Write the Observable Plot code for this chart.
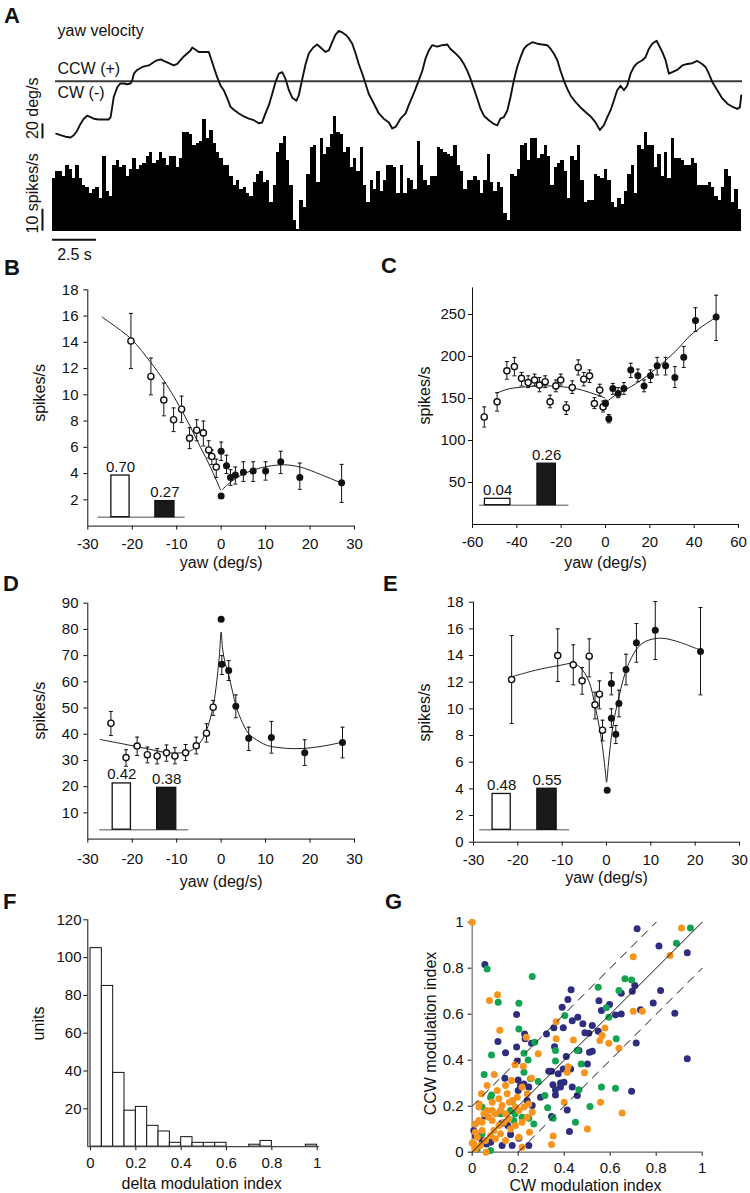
<!DOCTYPE html>
<html><head><meta charset="utf-8">
<script src="https://cdn.jsdelivr.net/npm/d3@7"></script>
<script src="https://cdn.jsdelivr.net/npm/@observablehq/plot@0.6"></script>
<style>
html,body{margin:0;padding:0;background:#fff;}
#fig{position:relative;width:750px;height:1193px;overflow:hidden;font-family:"Liberation Sans",Arial,sans-serif;}
#fig svg{position:absolute;left:0;top:0;}
.letter{position:absolute;font-weight:bold;font-size:22px;line-height:22px;color:#111;}
</style></head><body><div id="fig"></div>
<script>
// ---------------- DATA ----------------
// Panel A: yaw velocity trace (s, deg/s)
const aTime = [0.21,0.45,0.74,1.02,1.21,1.40,1.59,1.78,1.97,2.16,2.35,2.63,2.91,3.20,3.30,3.39,3.48,3.68,3.86,4.05,4.24,4.43,4.53,4.62,4.81,5.10,5.28,5.47,5.66,5.85,6.14,6.32,6.52,6.70,6.89,7.09,7.27,7.46,7.65,7.84,7.94,8.13,8.31,8.60,8.88,8.98,9.16,9.36,9.55,9.73,9.93,10.11,10.30,10.59,10.87,11.15,11.44,11.72,11.91,12.10,12.29,12.48,12.67,12.86,13.05,13.24,13.43,13.62,13.86,13.99,14.19,14.38,14.56,14.81,15.04,15.23,15.51,15.70,15.89,16.08,16.27,16.46,16.65,16.84,17.03,17.22,17.40,17.60,17.78,17.97,18.26,18.54,18.82,19.11,19.30,19.49,19.77,20.06,20.24,20.44,20.63,20.81,21.01,21.19,21.38,21.57,21.86,22.14,22.43,22.61,22.90,23.18,23.37,23.56,23.75,23.94,24.13,24.32,24.51,24.79,25.07,25.27,25.45,25.64,25.84,26.02,26.21,26.40,26.59,26.78,26.97,27.26,27.54,27.82,28.11,28.30,28.48,28.68,28.86,29.05,29.24,29.43,29.72,30.00,30.28,30.57,30.85,31.10,31.32,31.52,31.70,31.89,32.08,32.27,32.46,32.65,32.84,33.03,33.22,33.51,33.69,33.88,34.07,34.32,34.45,34.64,34.83,35.02,35.21,35.49,35.78,36.06,36.35,36.63,36.91,37.10,37.29,37.48,37.77,38.05,38.34,38.62,38.90,39.05,39.13];
const aVel = [-70,-72,-74,-75,-72,-66,-57,-50,-46,-48,-50,-51,-51,-51,-48,-35,-21,-8,-3,-3,-4,-3,1,10,15,19,20,21,24,27,29,27,25,23,21,23,28,33,37,41,45,42,39,39,39,32,19,5,-6,-12,-23,-34,-38,-43,-47,-50,-52,-56,-55,-43,-32,-17,-1,10,12,3,-12,-22,-26,-19,3,23,37,45,49,45,39,41,52,62,67,65,62,57,50,37,23,10,-3,-17,-30,-43,-50,-55,-63,-61,-50,-43,-32,-21,-10,1,14,30,41,48,46,48,49,43,37,30,23,14,3,-10,-23,-37,-46,-52,-57,-59,-50,-48,-39,-21,1,19,32,43,48,52,50,49,48,43,37,28,14,1,-10,-19,-28,-35,-41,-47,-55,-65,-59,-48,-39,-26,-12,-6,-12,-6,10,19,24,28,32,43,50,54,48,39,28,10,12,15,21,23,24,27,23,19,10,-1,-12,-23,-30,-34,-37,-35,-19];
// Panel A: firing-rate histogram (spikes/s per bin)
const aBinWidth = 0.19;
const aRates = [24,27,27,25,30,28,24,30,24,21,20,17,19,20,15,34,18,16,30,32,29,30,25,28,33,28,30,31,34,36,31,32,36,33,30,34,34,29,33,45,45,44,39,40,41,51,42,46,40,36,33,30,
30,25,21,23,19,20,17,16,22,26,27,22,23,13,21,36,40,43,32,21,5,1,14,11,26,38,39,22,42,35,38,44,52,45,44,36,38,29,33,27,38,21,13,23,19,27,18,23,30,30,29,17,
30,17,24,23,19,41,30,23,21,25,25,38,37,36,35,34,39,30,27,19,23,23,25,23,17,23,35,22,18,22,20,8,5,26,25,28,39,40,32,42,42,33,35,39,34,21,29,31,32,27,15,34,
32,39,23,13,14,14,26,25,24,28,23,13,11,15,12,18,26,30,17,39,37,45,39,39,29,35,25,36,24,42,33,33,32,30,30,33,31,21,21,21,22,20,16,14,20,28,25,13,19,10];
const aScaleVel = 20, aScaleRate = 10, aScaleTime = 2.5;

// Panels B–E: rows are [yaw deg/s, rate spikes/s, error low, error high]
const bOpen = [[-20.3,14.1,12.0,16.2],[-15.8,11.4,10.0,12.8],[-12.9,9.6,8.4,10.9],[-10.7,8.1,7.2,9.0],[-8.9,8.9,7.9,9.9],[-7.1,6.7,5.9,7.5],[-5.5,7.3,6.5,8.1],[-4.0,7.1,6.1,8.0],[-2.8,5.8,5.2,6.5],[-2.1,5.3,4.7,5.8],[-1.1,4.5,3.7,5.1]];
const bFilled = [[0.0,2.3,2.3,2.3],[0.0,5.7,5.0,6.4],[1.2,4.6,4.0,5.4],[2.1,3.7,3.1,4.3],[3.2,3.9,3.2,4.5],[5.0,4.1,3.4,4.9],[7.2,4.2,3.4,4.9],[10.0,4.2,3.5,4.9],[13.4,4.9,4.0,5.7],[17.7,3.7,2.8,4.8],[27.1,3.3,1.8,4.7]];
const bFitNeg = [[-26.8,15.92],[-20.3,14.27],[-15.9,12.49],[-12.9,11.09],[-10.65,9.87],[-7.65,8.04],[-4.65,6.01],[-2.4,4.49],[-0.15,2.76]];
const bFitPos = [[0.2,2.76],[2.1,3.35],[4.35,3.85],[7.35,4.29],[10.35,4.54],[14.1,4.67],[17.85,4.49],[22.4,3.93],[27.1,3.27]];
const bIndex = [0.70, 0.27];

const cOpen = [[-54.7,128,116,140],[-48.9,146,135,157],[-44.5,183,173,194],[-41.1,188,177,199],[-37.9,174,165,181],[-34.9,169,163,177],[-32.0,172,165,179],[-29.8,166,158,175],[-27.2,170,163,177],[-25.0,146,139,154],[-22.4,165,158,172],[-20.2,172,166,179],[-17.7,139,131,146],[-15.0,163,156,171],[-12.3,187,178,196],[-9.8,173,165,181],[-7.2,177,169,184],[-5.0,144,138,151],[-2.6,160,153,167],[-1.1,140,134,147]];
const cFilled = [[0,144,141,148],[1.5,126,121,131],[3.3,162,155,168],[5.7,156,151,163],[8.3,162,155,169],[11.4,184,175,192],[14.6,177,170,185],[17.4,165,158,172],[20.3,177,169,184],[23.3,189,178,199],[27.1,189,178,199],[31.3,175,163,188],[35.3,199,187,212],[40.6,243,230,258],[49.9,247,219,273]];
const cFitNeg = [[-48.9,156.7],[-43.6,161.5],[-36.1,163.9],[-28.6,165.1],[-21.1,164.3],[-13.5,161.9],[-7.5,157.5],[-0.3,150.8]];
const cFitPos = [[-0.3,144.4],[4.5,154],[10.5,162.7],[16.5,172.6],[24.1,188.5],[31.6,206.3],[39.1,227],[49.9,246.8]];
const cIndex = [0.04, 0.26];

const dOpen = [[-24.8,44.2,39.5,48.7],[-21.4,31.1,27.8,34.1],[-18.9,35.5,31.9,38.9],[-16.6,32.2,29.1,35.1],[-14.4,31.7,28.7,34.5],[-12.3,32.9,29.7,35.9],[-10.4,31.7,28.7,34.9],[-8.0,32.9,30.0,36.1],[-5.6,35.6,32.5,38.9],[-3.3,40.4,37.0,44.0],[-1.8,50.3,47.2,52.9]];
const dFilled = [[0,83.9,83.9,83.9],[0.15,66.7,62.8,70.0],[1.7,64.3,60.5,68.1],[3.3,50.7,46.3,55.0],[6.2,38.5,33.8,42.7],[11.3,38.8,32.8,44.9],[18.8,32.9,28.1,37.9],[27.3,36.9,31.0,42.7]];
const dFit = [[-27.2,38.0],[-22,36.3],[-17,34.6],[-12.2,33.0],[-9,32.9],[-7,33.6],[-5.2,35.8],[-3.8,39.5],[-2.6,45],[-1.7,51.5],[-1.0,60],[-0.4,70],[0,79],[0.3,73],[0.9,67],[1.7,62.5],[2.6,56],[3.4,50.5],[4.5,45.5],[6.2,40.2],[8.5,37.3],[10.4,35.7],[13,34.9],[16.4,34.5],[20,34.8],[24,35.8],[27.3,37.0]];
const dIndex = [0.42, 0.38];

const eOpen = [[-21.4,12.2,8.9,15.5],[-11.0,14.0,12.05,16.0],[-7.5,13.3,11.8,14.8],[-5.5,12.1,11.1,13.1],[-3.9,13.95,12.4,15.25],[-2.6,10.3,9.25,11.25],[-1.6,11.1,10.0,12.1],[-0.9,8.4,7.6,9.15]];
const eFilled = [[0.15,3.9,3.9,3.9],[1.1,11.9,11.05,12.7],[1.1,9.3,8.6,10.0],[2.1,8.1,7.4,8.75],[2.8,10.4,9.4,11.4],[4.4,12.95,11.8,14.1],[6.75,14.95,13.5,16.4],[11.0,15.9,13.7,18.05],[21.2,14.3,11.05,17.6]];
const eFit = [[-21.4,12.4],[-16,12.9],[-10.7,13.25],[-7.5,13.4],[-5.9,13.1],[-4,12.1],[-2.5,10.1],[-1.1,7.6],[-0.2,5.1],[0,4.5],[0.5,6.1],[1.4,8.6],[2.8,10.9],[5.0,13.4],[8.0,14.9],[11.8,15.3],[15.5,15.1],[21.2,14.4]];
const eIndex = [0.48, 0.55];

// Panel F: histogram of delta modulation index (bin width 0.05)
const fBinWidth = 0.05;
const fCounts = [105,85,39,19,21,11,8,2,5,2,2,2,0,0,1,3,0,0,0,1];

// Panel G: [CW modulation index, CCW modulation index]
const gNavy = [[0.717,0.971],[0.812,0.896],[0.935,0.867],[0.055,0.816],[0.819,0.703],[0.648,0.691],[0.696,0.70],[0.707,0.725],[0.43,0.706],[0.416,0.664],[0.551,0.659],[0.391,0.63],[0.787,0.649],[0.597,0.642],[0.881,0.604],[0.193,0.599],[0.623,0.597],[0.648,0.601],[0.562,0.616],[0.435,0.572],[0.459,0.587],[0.355,0.541],[0.323,0.514],[0.396,0.541],[0.522,0.551],[0.481,0.558],[0.49,0.519],[0.507,0.517],[0.548,0.526],[0.228,0.514],[0.23,0.493],[0.112,0.481],[0.145,0.432],[0.193,0.457],[0.409,0.416],[0.464,0.442],[0.51,0.435],[0.522,0.439],[0.501,0.384],[0.196,0.396],[0.358,0.459],[0.258,0.474],[0.142,0.322],[0.2,0.314],[0.225,0.297],[0.21,0.29],[0.246,0.283],[0.2,0.268],[0.333,0.352],[0.345,0.352],[0.374,0.341],[0.396,0.362],[0.416,0.358],[0.428,0.362],[0.384,0.301],[0.351,0.293],[0.362,0.271],[0.384,0.283],[0.399,0.304],[0.435,0.283],[0.457,0.246],[0.362,0.249],[0.297,0.239],[0.261,0.203],[0.239,0.225],[0.413,0.184],[0.345,0.155],[0.423,0.09],[0.246,0.029],[0.062,0.036],[0.055,0.157],[0.128,0.126],[0.155,0.116],[0.167,0.077],[0.08,0.043],[0.13,0.029],[0.174,0.029],[0.203,0.061],[0.007,0.094],[0.014,0.072],[0.043,0.051],[0.693,0.265],[0.713,0.475],[0.935,0.406],[0.732,0.619]];
const gGreen = [[0.949,0.975],[0.888,0.909],[0.664,0.754],[0.693,0.749],[0.638,0.703],[0.065,0.797],[0.261,0.764],[0.113,0.652],[0.203,0.648],[0.548,0.717],[0.583,0.628],[0.403,0.594],[0.203,0.536],[0.594,0.587],[0.225,0.43],[0.272,0.478],[0.243,0.401],[0.084,0.423],[0.362,0.442],[0.362,0.396],[0.457,0.442],[0.474,0.384],[0.626,0.493],[0.052,0.338],[0.225,0.348],[0.254,0.319],[0.287,0.307],[0.464,0.271],[0.562,0.283],[0.623,0.278],[0.316,0.246],[0.328,0.193],[0.123,0.167],[0.167,0.181],[0.186,0.167],[0.08,0.239],[0.043,0.196],[0.084,0.249],[0.174,0.22],[0.217,0.152],[0.246,0.148],[0.352,0.148],[0.512,0.199],[0.449,0.13],[0.268,0.123],[0.043,0.08],[0.08,0.007],[0.022,0.014],[0.181,0.138]];
const gOrange = [[0,1.0],[0.91,0.975],[0.70,0.85],[0.86,0.855],[0.11,0.685],[0.075,0.66],[0.12,0.53],[0.365,0.567],[0.70,0.613],[0.74,0.613],[0.577,0.54],[0.235,0.50],[0.365,0.493],[0.44,0.488],[0.594,0.474],[0.565,0.507],[0.555,0.486],[0.287,0.428],[0.417,0.372],[0.638,0.452],[0.186,0.38],[0.222,0.374],[0.096,0.338],[0.065,0.29],[0.04,0.254],[0.145,0.29],[0.258,0.322],[0.488,0.345],[0.413,0.348],[0.4,0.217],[0.558,0.217],[0.652,0.17],[0.501,0.101],[0.352,0.07],[0.345,0.033],[0.217,0.022],[0.007,0.036],[0.022,0.065],[0.014,0.087],[0.043,0.13],[0.072,0.152],[0.087,0.181],[0.101,0.167],[0.116,0.232],[0.13,0.203],[0.152,0.254],[0.174,0.225],[0.188,0.196],[0.203,0.181],[0.225,0.196],[0.246,0.21],[0.261,0.174],[0.239,0.152],[0.217,0.13],[0.188,0.116],[0.159,0.145],[0.138,0.13],[0.116,0.116],[0.094,0.094],[0.08,0.072],[0.058,0.051],[0.036,0.029],[0.014,0.014],[0.101,0.058],[0.123,0.08],[0.145,0.051],[0.065,0.181],[0.051,0.167],[0.029,0.196],[0.087,0.217],[0.109,0.268],[0.162,0.217],[0.217,0.283],[0.171,0.312],[0.043,0.094],[0.014,0.123],[0.239,0.254],[0.196,0.239],[0.123,0.181],[0.145,0.167],[0.167,0.101],[0.203,0.065],[0.249,0.087],[0.029,0.138],[0.087,0.138],[0.03,0.21],[0.0,0.04],[0.06,0.0]];
const gBandOffsets = [0.2, -0.2];

// ---------------- LAYOUT ----------------
const W = 750, H = 1193;
const FONT = '"Liberation Sans", Arial, Helvetica, sans-serif';
const fig = document.getElementById("fig");
const frames = {
  aTrace: {left: 52, right: 742, top: 20, bottom: 150},
  aHist: {left: 52, right: 742, top: 100, bottom: 230.7},
  B: {left: 87.3, right: 354, top: 289.3, bottom: 525.6},
  C: {left: 472, right: 738, top: 287.4, bottom: 524},
  D: {left: 87.3, right: 354, top: 602.7, bottom: 838.6},
  E: {left: 473, right: 739, top: 601.7, bottom: 841.7},
  F: {left: 87.3, right: 318.9, top: 919.3, bottom: 1146.1},
  G: {left: 471.7, right: 701.7, top: 921.7, bottom: 1151.7}
};
const insets = {
  B: {base: 0.68, k: 4.53, span: [-27.7, -8.1], slots: [[-24.7, -20.6], [-14.8, -10.5]]},
  C: {base: 23, k: 190, span: [-56.8, -16.5], slots: [[-54.4, -42.9], [-30.7, -22.4]]},
  D: {base: 3.6, k: 42, span: [-27.3, -7.3], slots: [[-24.4, -20.3], [-14.4, -10.1]]},
  E: {base: 0.93, k: 5.6, span: [-28.6, -8.3], slots: [[-25.7, -21.6], [-15.6, -11.25]]}
};

function place(frame, options) {
  const svg = Plot.plot({
    width: W, height: H,
    marginLeft: frame.left, marginRight: W - frame.right,
    marginTop: frame.top, marginBottom: H - frame.bottom,
    style: {background: "transparent", fontFamily: FONT, fontSize: "15px", color: "#111", overflow: "visible"},
    ...options
  });
  fig.appendChild(svg);
}
const fmt = d => String(d);
function xAxis(domain, ticks, pad) { return {domain, ticks, tickFormat: fmt, tickSize: 4, tickPadding: pad, label: null}; }
function yAxis(domain, ticks, pad) { return {domain, ticks, tickFormat: fmt, tickSize: 4, tickPadding: pad, label: null}; }
function label(text, anchor, dx, dy, rotate = 0) {
  return Plot.text([text], {frameAnchor: anchor, text: d => d, dx, dy, rotate, fontSize: 16, textAnchor: "middle", lineAnchor: "middle", fill: "#111"});
}
const capSymbol = {draw(ctx, size) { const r = Math.sqrt(size / Math.PI); ctx.moveTo(-r, 0); ctx.lineTo(r, 0); }};
const rows = (arr) => arr.map(r => ({yaw: r[0], rate: r[1], lo: r[2], hi: r[3]}));
const pts = (arr) => arr.map(r => ({x: r[0], y: r[1]}));

function tuningMarks(open, filled, fits, index, lay) {
  const all = [...rows(open), ...rows(filled)].filter(d => d.hi - d.lo > 0.01);
  const bars = index.map((v, i) => ({x1: lay.slots[i][0], x2: lay.slots[i][1], y1: lay.base, y2: lay.base + v * lay.k, v, kind: i === 0 ? "open" : "filled"}));
  return [
    Plot.ruleY([lay.base], {x1: lay.span[0], x2: lay.span[1], stroke: "#8a8a8a", strokeWidth: 1.5}),
    Plot.rect(bars, {x1: "x1", x2: "x2", y1: "y1", y2: "y2", fill: d => d.kind === "open" ? "#fff" : "#1a1a1a", stroke: "#111", strokeWidth: 1.3}),
    Plot.text(bars, {x: d => (d.x1 + d.x2) / 2, y: "y2", text: d => d3.format(".2f")(d.v), lineAnchor: "bottom", dy: -4, fontSize: 15, fill: "#111"}),
    ...fits.map(f => Plot.line(pts(f), {x: "x", y: "y", stroke: "#222", strokeWidth: 1, curve: "catmull-rom"})),
    Plot.ruleX(all, {x: "yaw", y1: "lo", y2: "hi", stroke: "#111", strokeWidth: 1}),
    Plot.dot(all, {x: "yaw", y: "lo", symbol: capSymbol, r: 2, stroke: "#111", fill: "none", strokeWidth: 1}),
    Plot.dot(all, {x: "yaw", y: "hi", symbol: capSymbol, r: 2, stroke: "#111", fill: "none", strokeWidth: 1}),
    Plot.dot(rows(open), {x: "yaw", y: "rate", r: 3.1, fill: "#fff", stroke: "#111", strokeWidth: 1.4}),
    Plot.dot(rows(filled), {x: "yaw", y: "rate", r: 3.5, fill: "#111", stroke: "none"})
  ];
}

// ---------------- PANEL A ----------------
const trace = aTime.map((t, i) => ({t, v: aVel[i]}));
place(frames.aTrace, {
  x: {domain: [0, 39.2], axis: null},
  y: {domain: [-92.4, 80.93], axis: null},
  marks: [
    Plot.ruleY([0], {x1: 0.17, x2: 39.2, stroke: "#3a3a3a", strokeWidth: 2}),
    Plot.line(trace, {x: "t", y: "v", stroke: "#111", strokeWidth: 1.9}),
    Plot.text(["yaw velocity"], {frameAnchor: "top-left", dx: 5, dy: 10, lineAnchor: "middle", textAnchor: "start", fontSize: 16, fill: "#111", text: d => d}),
    Plot.text([{t: 0, v: 0, s: "CCW (+)"}], {x: "t", y: "v", text: "s", dx: 5, dy: -12.5, textAnchor: "start", lineAnchor: "middle", fontSize: 16, fill: "#111"}),
    Plot.text([{t: 0, v: 0, s: "CW (-)"}], {x: "t", y: "v", text: "s", dx: 5, dy: 11.5, textAnchor: "start", lineAnchor: "middle", fontSize: 16, fill: "#111"}),
    Plot.ruleX([{t: -0.57, v0: -77}], {x: "t", y1: "v0", y2: d => d.v0 + aScaleVel, stroke: "#111", strokeWidth: 2}),
    Plot.text([{t: -1.14, v0: -77}], {x: "t", y: "v0", text: () => `${aScaleVel} deg/s`, rotate: -90, textAnchor: "start", lineAnchor: "middle", fontSize: 16, fill: "#111"})
  ]
});
const hist = aRates.map((r, i) => ({t0: i * aBinWidth, t1: (i + 1) * aBinWidth, rate: r}));
place(frames.aHist, {
  x: {domain: [0, 39.2], axis: null},
  y: {domain: [0, 59.41], axis: null},
  marks: [
    Plot.rect(hist, {x1: "t0", x2: "t1", y1: 0, y2: "rate", fill: "#000", shapeRendering: "crispEdges"}),
    Plot.ruleX([{t: -0.57}], {x: "t", y1: 0, y2: aScaleRate, stroke: "#111", strokeWidth: 2}),
    Plot.text([{t: -1.14, r: -1}], {x: "t", y: "r", text: () => `${aScaleRate} spikes/s`, rotate: -90, textAnchor: "start", lineAnchor: "middle", fontSize: 16, fill: "#111"}),
    Plot.ruleY([{t0: 0, t1: aScaleTime}], {x1: "t0", x2: "t1", y: () => 0, dy: 8.5, stroke: "#111", strokeWidth: 2}),
    Plot.text([{t: aScaleTime / 2}], {x: "t", y: () => 0, dy: 24, text: () => `${aScaleTime} s`, lineAnchor: "middle", fontSize: 16, fill: "#111"})
  ]
});

// ---------------- PANELS B–E ----------------
place(frames.B, {
  x: xAxis([-30, 30], [-30, -20, -10, 0, 10, 20, 30], 8.3),
  y: yAxis([0, 18], [2, 4, 6, 8, 10, 12, 14, 16, 18], 5.3),
  marks: [
    Plot.ruleX([-30], {stroke: "#111"}), Plot.ruleY([0], {stroke: "#111"}),
    ...tuningMarks(bOpen, bFilled, [bFitNeg, bFitPos], bIndex, insets.B),
    label("yaw (deg/s)", "bottom", 0, 36.5),
    label("spikes/s", "left", -48.3, -15, -90)
  ]
});
place(frames.C, {
  x: xAxis([-60, 60], [-60, -40, -20, 0, 20, 40, 60], 8.3),
  y: yAxis([0, 281.7], [50, 100, 150, 200, 250], 3),
  marks: [
    Plot.ruleX([-60], {stroke: "#111"}), Plot.ruleY([0], {stroke: "#111"}),
    ...tuningMarks(cOpen, cFilled, [cFitNeg, cFitPos], cIndex, insets.C),
    label("yaw (deg/s)", "bottom", 0, 38),
    label("spikes/s", "left", -48, -10.7, -90)
  ]
});
place(frames.D, {
  x: xAxis([-30, 30], [-30, -20, -10, 0, 10, 20, 30], 10.5),
  y: yAxis([0, 90], [10, 20, 30, 40, 50, 60, 70, 80, 90], 5.3),
  marks: [
    Plot.ruleX([-30], {stroke: "#111"}), Plot.ruleY([0], {stroke: "#111"}),
    ...tuningMarks(dOpen, dFilled, [dFit], dIndex, insets.D),
    label("yaw (deg/s)", "bottom", 0, 42.5),
    label("spikes/s", "left", -48.3, -10.6, -90)
  ]
});
place(frames.E, {
  x: xAxis([-30, 30], [-30, -20, -10, 0, 10, 20, 30], 7.8),
  y: yAxis([0, 18], [0, 2, 4, 6, 8, 10, 12, 14, 16, 18], 6),
  marks: [
    Plot.ruleX([-30], {stroke: "#111"}), Plot.ruleY([0], {stroke: "#111"}),
    ...tuningMarks(eOpen, eFilled, [eFit], eIndex, insets.E),
    label("yaw (deg/s)", "bottom", 0, 36),
    label("spikes/s", "left", -49, -9.7, -90)
  ]
});

// ---------------- PANEL F ----------------
const fBins = fCounts.map((c, i) => ({x0: i * fBinWidth, x1: (i + 1) * fBinWidth, n: c})).filter(d => d.n > 0);
place(frames.F, {
  x: xAxis([-0.012, 1.0098], [0, 0.2, 0.4, 0.6, 0.8, 1], 6.6),
  y: yAxis([0, 120], [20, 40, 60, 80, 100, 120], 2.3),
  marks: [
    Plot.rect(fBins, {x1: "x0", x2: "x1", y1: 0, y2: "n", fill: "#fff", stroke: "#111", strokeWidth: 1}),
    Plot.ruleX([-0.012], {stroke: "#111"}), Plot.ruleY([0], {stroke: "#444", strokeWidth: 1.2}),
    label("delta modulation index", "bottom", -2, 37),
    label("units", "left", -49.3, -9.7, -90)
  ]
});

// ---------------- PANEL G ----------------
const diag = [{x: 0, y: 0}, {x: 1, y: 1}];
const bands = gBandOffsets.map(o => [{x: Math.max(0, -o), y: Math.max(0, o)}, {x: Math.min(1, 1 - o), y: Math.min(1, 1 + o)}]);
place(frames.G, {
  x: xAxis([0, 1], [0, 0.2, 0.4, 0.6, 0.8, 1], 6),
  y: yAxis([0, 1], [0, 0.2, 0.4, 0.6, 0.8, 1], 4.7),
  marks: [
    Plot.ruleX([0], {stroke: "#8a8a8a", strokeWidth: 1.5}), Plot.ruleY([0], {stroke: "#666", strokeWidth: 1.2}),
    Plot.dot(pts(gNavy), {x: "x", y: "y", r: 3.5, fill: "#2e2d7f"}),
    Plot.dot(pts(gGreen), {x: "x", y: "y", r: 3.5, fill: "#13a452"}),
    Plot.dot(pts(gOrange), {x: "x", y: "y", r: 3.5, fill: "#f7941d"}),
    Plot.line(diag, {x: "x", y: "y", stroke: "#111", strokeWidth: 1}),
    ...bands.map(b => Plot.line(b, {x: "x", y: "y", stroke: "#111", strokeWidth: 1, strokeDasharray: "8,7"})),
    label("CW modulation index", "bottom", -1.7, 33.3),
    label("CCW modulation index", "left", -41.7, -3.7, -90)
  ]
});

// ---------------- PANEL LETTERS ----------------
[["A", 4, 5], ["B", 4, 257], ["C", 381, 255], ["D", 3, 573], ["E", 383, 573], ["F", 3, 891], ["G", 385, 891]].forEach(([t, x, y]) => {
  const d = document.createElement("div");
  d.className = "letter"; d.textContent = t; d.style.left = x + "px"; d.style.top = y + "px";
  fig.appendChild(d);
});
</script></body></html>
